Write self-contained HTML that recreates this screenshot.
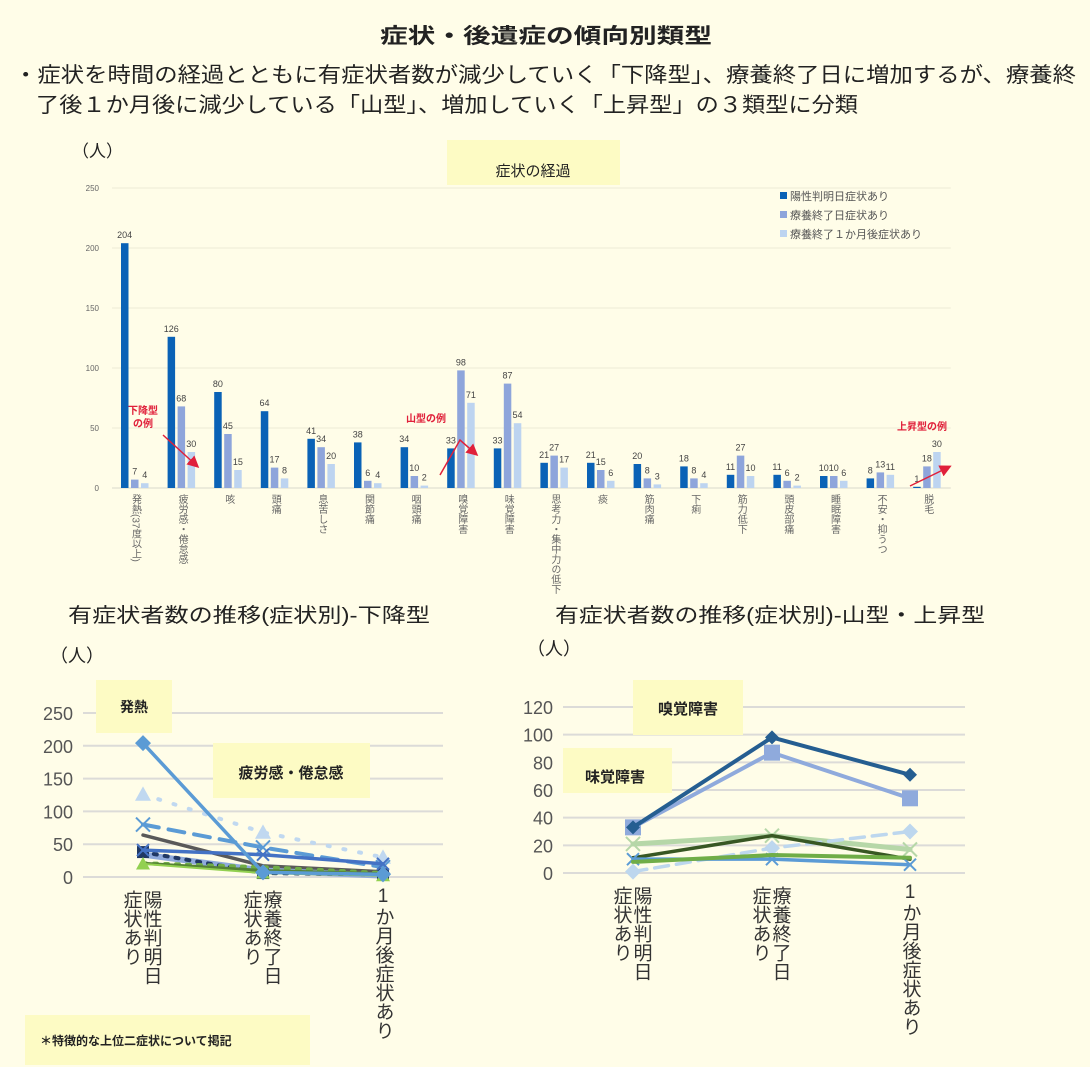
<!DOCTYPE html>
<html><head><meta charset="utf-8">
<style>
html,body{margin:0;padding:0;background:#fffde8;}
body{width:1090px;height:1067px;overflow:hidden;font-family:"Liberation Sans","Noto Sans CJK JP",sans-serif;}
svg{display:block}
text{font-family:"Liberation Sans","Noto Sans CJK JP",sans-serif;}
.v{writing-mode:vertical-rl;}
.u{writing-mode:vertical-rl;text-orientation:upright;}
</style></head>
<body>
<svg id="s" width="1090" height="1067" viewBox="0 0 1090 1067">
<rect x="0" y="0" width="1090" height="1067" fill="#fffde8"/>
<text x="380" y="43" font-size="21" font-weight="bold" fill="#222" textLength="332" lengthAdjust="spacingAndGlyphs">症状・後遺症の傾向別類型</text>
<text x="14" y="82" font-size="21" fill="#222" textLength="1062" lengthAdjust="spacingAndGlyphs">・症状を時間の経過とともに有症状者数が減少していく「下降型」、療養終了日に増加するが、療養終</text>
<text x="36" y="112" font-size="21" fill="#222" textLength="822" lengthAdjust="spacingAndGlyphs">了後１か月後に減少している「山型」、増加していく「上昇型」の３類型に分類</text>
<g id="topg"></g>
<g id="bl"></g>
<g id="br"></g>
</svg>
<script>
const NS="http://www.w3.org/2000/svg";
function mk(p,tag,attrs,txt){const e=document.createElementNS(NS,tag);for(const k in attrs)e.setAttribute(k,attrs[k]);if(txt!==undefined)e.textContent=txt;p.appendChild(e);return e;}

// ---- top bar chart data ----
const categories=["発熱(37度以上)","疲労感・倦怠感","咳","頭痛","息苦しさ","関節痛","咽頭痛","嗅覚障害","味覚障害","思考力・集中力の低下","痰","筋肉痛","下痢","筋力低下","頭皮部痛","睡眠障害","不安・抑うつ","脱毛"];
const positiveDay=[204,126,80,64,41,38,34,33,33,21,21,20,18,11,11,10,8,1];
const endDay=[7,68,45,17,34,6,10,98,87,27,15,8,8,27,6,10,13,18];
const oneMonth=[4,30,15,8,20,4,2,71,54,17,6,3,4,10,2,6,11,30];
const seriesNames=["陽性判明日症状あり","療養終了日症状あり","療養終了１か月後症状あり"];
const yTicks=[0,50,100,150,200,250];

const topG=document.getElementById('topg');
const tx0=112, tStep=46.6, ty0=488, tyScale=300/250;
const tY=v=>ty0-v*tyScale;
const tX=i=>tx0+i*tStep;
let e;
e=mk(topG,'text',{x:72,y:157,'font-size':17,fill:'#222'},'（人）');


e=mk(topG,'rect',{x:447,y:140,width:173,height:45,fill:'#fdfbc4'});


e=mk(topG,'text',{x:533,y:176,'font-size':15,'text-anchor':'middle',fill:'#222'},'症状の経過');


yTicks.forEach(t=>{
 e=mk(topG,'line',{x1:tx0,x2:tx0+18*tStep,y1:tY(t),y2:tY(t),stroke:t===0?'#d9d9cc':'#ecebd6','stroke-width':1});
 
 
 e=mk(topG,'text',{x:99,y:tY(t)+3,'font-size':8,'text-anchor':'end',fill:'#666'},String(t));
 
 
});
const colors=['#0a62b6','#8ea5db','#bdd4f0'];
const sers=[positiveDay,endDay,oneMonth];
categories.forEach((c,i)=>{
 sers.forEach((s,j)=>{
  const x=tX(i)+9+j*10;
  e=mk(topG,'rect',{x:x,y:tY(s[i]),width:7.5,height:s[i]*tyScale,fill:colors[j]});
  
  
  e=mk(topG,'text',{x:x+3.7,y:tY(s[i])-5,'font-size':9,'text-anchor':'middle',fill:'#444'},String(s[i]));
  
  
 });
 e=mk(topG,'text',{x:tX(i)+23,y:494,'font-size':10,fill:'#666',class:'v'},c);
 
 
});
seriesNames.forEach((n,j)=>{
 e=mk(topG,'rect',{x:780,y:192+j*19,width:7,height:7,fill:colors[j]});
 
 
 e=mk(topG,'text',{x:790,y:200+j*19,'font-size':11,fill:'#555'},n);
 
 
});
mk(topG,'defs',{}).innerHTML='<marker id="ar" markerWidth="8" markerHeight="8" refX="6" refY="4" orient="auto"><path d="M0,0 L8,4 L0,8 z" fill="#e0203a"/></marker>';
e=mk(topG,'text',{x:128,y:414,'font-size':10,'font-weight':'bold',fill:'#e0203a'},'下降型');


mk(topG,'text',{x:133,y:427,'font-size':10,'font-weight':'bold',fill:'#e0203a'},'の例');
e=mk(topG,'path',{d:'M163,435 L197,466',stroke:'#e0203a','stroke-width':1.5,fill:'none','marker-end':'url(#ar)'});


e=mk(topG,'text',{x:406,y:422,'font-size':10,'font-weight':'bold',fill:'#e0203a'},'山型の例');


e=mk(topG,'path',{d:'M440,475 L460,440 L476,454',stroke:'#e0203a','stroke-width':1.5,fill:'none','marker-end':'url(#ar)'});


e=mk(topG,'text',{x:897,y:430,'font-size':10,'font-weight':'bold',fill:'#e0203a'},'上昇型の例');


e=mk(topG,'path',{d:'M910,486 L949,467',stroke:'#e0203a','stroke-width':1.5,fill:'none','marker-end':'url(#ar)'});



// ---- bottom line charts data ----
const timePoints=["陽性判明日症状あり","療養終了日症状あり","1か月後症状あり"];
const blTicks=[0,50,100,150,200,250];
const blFever=[204,7,4];
const blFatigue=[126,68,30];
const blCough=[80,45,15];
const blHeadache=[64,17,8];
const blBreath=[41,34,20];
const blJoint=[38,6,4];
const blThroat=[34,10,2];
const blGreen=[21,15,6];
const brTicks=[0,20,40,60,80,100,120];
const brSmell=[33,98,71];
const brTaste=[33,87,54];
const brPaleGreen=[21,27,17];
const brDarkGreen=[11,27,10];
const brHair=[1,18,30];
const brBlue=[10,10,6];
const brGreen=[8,13,11];

function marker(g,type,x,y,col,sz){
 let m;
 if(type==='diamond')m=mk(g,'path',{d:`M${x},${y-sz} L${x+sz},${y} L${x},${y+sz} L${x-sz},${y} z`,fill:col});
 else if(type==='square')m=mk(g,'rect',{x:x-sz,y:y-sz,width:2*sz,height:2*sz,fill:col});
 else if(type==='triangle')m=mk(g,'path',{d:`M${x},${y-sz} L${x+sz},${y+sz*0.8} L${x-sz},${y+sz*0.8} z`,fill:col});
 else if(type==='x')m=mk(g,'path',{d:`M${x-sz},${y-sz} L${x+sz},${y+sz} M${x+sz},${y-sz} L${x-sz},${y+sz}`,stroke:col,'stroke-width':2,fill:'none'});
 if(m){}
}
function lineChart(g,cfg){
 const Y=v=>cfg.y0-v*cfg.ys;
 cfg.ticks.forEach(t=>{
  e=mk(g,'line',{x1:cfg.gx0,x2:cfg.gx1,y1:Y(t),y2:Y(t),stroke:'#dcdbd8','stroke-width':2});
  
  
  e=mk(g,'text',{x:cfg.gx0-10,y:Y(t)+7,'font-size':18,'text-anchor':'end',fill:'#555'},String(t));
  
  
 });
 cfg.series.forEach(s=>{
  const pts=s.d.map((v,i)=>cfg.xs[i]+','+Y(v)).join(' ');
  e=mk(g,'polyline',{points:pts,fill:'none',stroke:s.c,'stroke-width':s.w||3.5,'stroke-dasharray':s.dash||'none','stroke-linecap':'round'});
  
  
  s.d.forEach((v,i)=>marker(g,s.m,cfg.xs[i],Y(v),s.c,s.ms||6));
 });
 timePoints.forEach((t,i)=>{
  const x=cfg.xs[i];
  if(i<2){
   e=mk(g,'text',{x:x+8,y:cfg.ly,'font-size':19,fill:'#333',class:'u'},t.slice(0,5));
   
   
   mk(g,'text',{x:x-12,y:cfg.ly,'font-size':19,fill:'#333',class:'u'},t.slice(5));
  }else{
   e=mk(g,'text',{x:x,y:cfg.ly-4,'font-size':19,fill:'#333',class:'u'},t);
   
   
  }
 });
}
const bl=document.getElementById('bl');
e=mk(bl,'text',{x:68,y:622,'font-size':20,fill:'#222',textLength:362,lengthAdjust:'spacingAndGlyphs'},'有症状者数の推移(症状別)-下降型');


e=mk(bl,'text',{x:50,y:662,'font-size':18,fill:'#222'},'（人）');


lineChart(bl,{y0:877,ys:164/250,gx0:83,gx1:443,xs:[143,263,383],ticks:blTicks,ly:890,series:[
 {d:blFatigue,c:'#c0d8f0',m:'triangle',dash:'2 14',w:4,ms:8},
 {d:blCough,c:'#5b9bd5',m:'x',dash:'16 10',w:4,ms:7},
 {d:blHeadache,c:'#595959',m:'none',w:3.5},
 {d:blThroat,c:'#8faadc',m:'none',w:6},
 {d:blJoint,c:'#203864',m:'square',dash:'3 8',w:4,ms:6},
 {d:blGreen,c:'#70ad47',m:'none',dash:'3 8',w:4},
 {d:[21,10,5],c:'#548235',m:'none',w:3},
 {d:[20,6,2],c:'#92d050',m:'triangle',w:2,ms:7},
 {d:blBreath,c:'#4472c4',m:'x',w:3.5,ms:6},
 {d:blFever,c:'#5b9bd5',m:'diamond',w:3.5,ms:8}
]});
e=mk(bl,'rect',{x:96,y:680,width:76,height:53,fill:'#fdfbc4'});


mk(bl,'text',{x:134,y:712,'font-size':14,'font-weight':'bold','text-anchor':'middle',fill:'#222'},'発熱');
e=mk(bl,'rect',{x:213,y:743,width:157,height:55,fill:'#fdfbc4'});


mk(bl,'text',{x:291,y:778,'font-size':15,'font-weight':'bold','text-anchor':'middle',fill:'#222'},'疲労感・倦怠感');
e=mk(bl,'rect',{x:25,y:1015,width:285,height:50,fill:'#fdfbc4'});


e=mk(bl,'text',{x:40,y:1045,'font-size':12,'font-weight':'bold',fill:'#222'},'＊特徴的な上位二症状について掲記');



const br=document.getElementById('br');
e=mk(br,'text',{x:555,y:622,'font-size':20,fill:'#222',textLength:430,lengthAdjust:'spacingAndGlyphs'},'有症状者数の推移(症状別)-山型・上昇型');


e=mk(br,'text',{x:527,y:655,'font-size':18,fill:'#222'},'（人）');


lineChart(br,{y0:873,ys:166/120,gx0:563,gx1:965,xs:[633,772,910],ticks:brTicks,ly:886,series:[
 {d:brPaleGreen,c:'#b6d7a8',m:'x',w:5,ms:7},
 {d:brHair,c:'#bdd7ee',m:'diamond',dash:'14 8',w:3.5,ms:8},
 {d:brDarkGreen,c:'#385723',m:'none',w:3.5},
 {d:brBlue,c:'#5b9bd5',m:'x',w:3.5,ms:6},
 {d:brGreen,c:'#70ad47',m:'none',w:4},
 {d:brTaste,c:'#8faadc',m:'square',w:4,ms:8},
 {d:brSmell,c:'#255e91',m:'diamond',w:4,ms:7}
]});
e=mk(br,'rect',{x:633,y:680,width:110,height:55,fill:'#fdfbc4'});


mk(br,'text',{x:688,y:714,'font-size':15,'font-weight':'bold','text-anchor':'middle',fill:'#222'},'嗅覚障害');
e=mk(br,'rect',{x:563,y:748,width:109,height:45,fill:'#fdfbc4'});


mk(br,'text',{x:615,y:782,'font-size':15,'font-weight':'bold','text-anchor':'middle',fill:'#222'},'味覚障害');
</script>
</body></html>
